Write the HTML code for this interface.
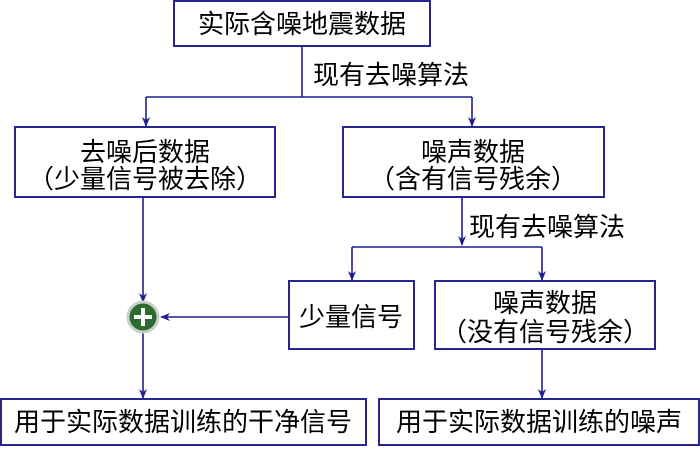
<!DOCTYPE html>
<html><head><meta charset="utf-8"><style>
body{margin:0;background:#fff;}
svg text{font-family:"Liberation Sans","Noto Sans CJK SC",sans-serif;font-size:26px;fill:#000;}
</style></head><body>
<svg width="700" height="446" viewBox="0 0 700 446" xmlns="http://www.w3.org/2000/svg">
<defs><marker id="a" markerWidth="10" markerHeight="10" refX="9" refY="5" orient="auto" markerUnits="userSpaceOnUse"><path d="M0,1 L10,5 L0,9 L3,5 Z" fill="#1f1f8f"/></marker></defs>
<g fill="none" stroke="#27278f" stroke-width="2">
<rect x="174" y="1" width="256" height="45"/>
<rect x="15" y="127" width="260" height="70"/>
<rect x="343" y="127" width="261" height="70"/>
<rect x="289" y="281" width="125" height="68"/>
<rect x="435" y="281" width="220" height="68"/>
<rect x="1" y="399" width="365" height="46"/>
<rect x="379" y="399" width="320" height="46"/>
</g>
<g fill="none" stroke="#1f1f8f" stroke-width="1.6">
<path d="M302,46 V97 M146,97 H472"/>
<path d="M146,97 V126" marker-end="url(#a)"/>
<path d="M472,97 V126" marker-end="url(#a)"/>
<path d="M462,197 V245" marker-end="url(#a)"/>
<path d="M352,247 H542"/>
<path d="M352,247 V280" marker-end="url(#a)"/>
<path d="M542,247 V280" marker-end="url(#a)"/>
<path d="M143,197 V302" marker-end="url(#a)"/>
<path d="M289,317 H161" marker-end="url(#a)"/>
<path d="M143,332 V398" marker-end="url(#a)"/>
<path d="M542,349 V398" marker-end="url(#a)"/>
</g>
<circle cx="143" cy="317" r="15" fill="#2d6a2f" stroke="#c8cfc8" stroke-width="3"/>
<path d="M143,308 V326 M134,317 H152" stroke="#fff" stroke-width="4"/>
<text x="302" y="33" text-anchor="middle">实际含噪地震数据</text>
<text x="313" y="84">现有去噪算法</text>
<text x="145" y="161" text-anchor="middle">去噪后数据</text>
<text x="145" y="188" text-anchor="middle">（少量信号被去除）</text>
<text x="473" y="161" text-anchor="middle">噪声数据</text>
<text x="473" y="188" text-anchor="middle">（含有信号残余）</text>
<text x="469" y="236">现有去噪算法</text>
<text x="351" y="326" text-anchor="middle">少量信号</text>
<text x="545" y="312" text-anchor="middle">噪声数据</text>
<text x="545" y="341" text-anchor="middle">（没有信号残余）</text>
<text x="183" y="431" text-anchor="middle">用于实际数据训练的干净信号</text>
<text x="539" y="431" text-anchor="middle">用于实际数据训练的噪声</text>
</svg>
</body></html>
